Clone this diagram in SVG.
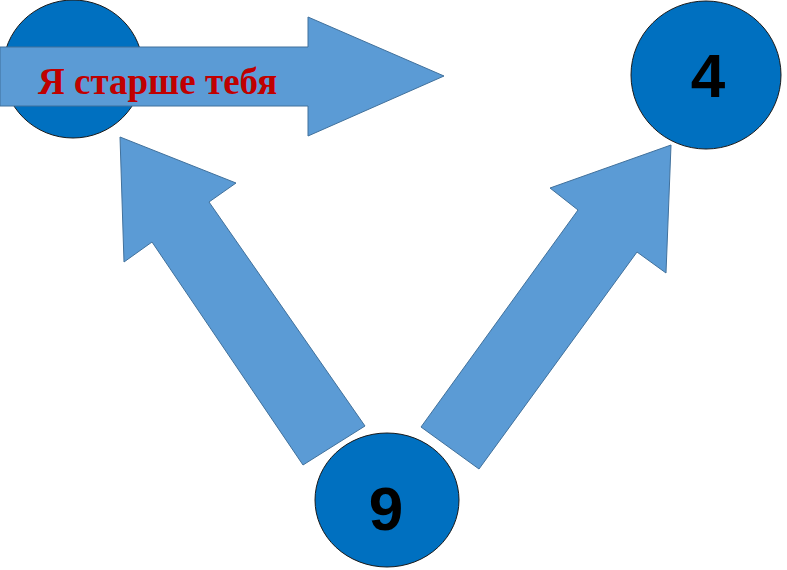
<svg xmlns="http://www.w3.org/2000/svg" width="787" height="570" viewBox="0 0 787 570">
<style>
.node{fill:#0070C0;stroke:#1a1a1a;stroke-width:1}
.arr{fill:#5B9BD5;stroke:#41719C;stroke-width:1}
.num{font-family:"Liberation Sans",Arial,sans-serif;font-weight:bold;font-size:62px;fill:#000;text-anchor:middle}
</style>
<rect width="787" height="570" fill="#fff"/>
<g id="node-top-left"><ellipse class="node" cx="73" cy="69" rx="70" ry="69"/></g>
<g id="node-4"><ellipse class="node" cx="706" cy="75" rx="75" ry="74"/><text class="num" x="708" y="97">4</text></g>
<g id="node-9"><ellipse class="node" cx="387" cy="500" rx="72" ry="67"/><text class="num" x="386" y="530">9</text></g>
<g id="connectors">
<polygon class="arr" points="303,465 365,426 209,202 236,183 120,137 124,262 152,242"/>
<polygon class="arr" points="421,427 479,469 637,252 666,273 671,145 550,188 578,210"/>
<polygon class="arr" points="0,47 308,47 308,17 444,76 308,136 308,106 0,106"/>
</g>
<text x="38" y="94" font-family="'Liberation Serif','Times New Roman',serif" font-weight="bold" font-size="37" fill="#C00000">Я старше тебя</text>
</svg>
